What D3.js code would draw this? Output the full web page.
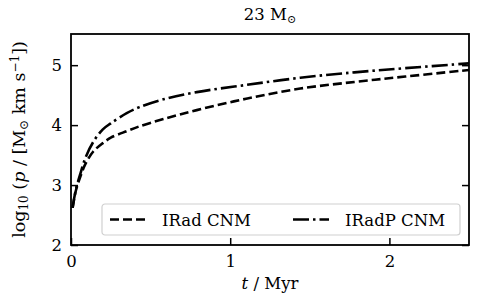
<!DOCTYPE html>
<meta charset="utf-8">
<style>
body { margin: 0; background: #fff; }
text { font-family: "DejaVu Serif", serif; fill: #000; }
</style>
<body>
<script src="https://cdn.jsdelivr.net/npm/d3@7"></script>
<script>
// data
var time = [0.01, 0.03, 0.06, 0.09, 0.14, 0.2, 0.25, 0.35, 0.43, 0.58, 0.79, 1.1, 1.44, 1.78, 2.1, 2.5];
var irad = [2.62, 2.9, 3.15, 3.35, 3.56, 3.7, 3.79, 3.9, 3.98, 4.1, 4.25, 4.44, 4.61, 4.72, 4.81, 4.92];
var iradp = [2.62, 2.92, 3.2, 3.45, 3.72, 3.93, 4.03, 4.2, 4.3, 4.43, 4.55, 4.67, 4.79, 4.88, 4.95, 5.03];
var xTicks = [0, 1, 2];
var yTicks = [2, 3, 4, 5];
var series = [
  {name: "IRad CNM", values: irad, dash: "9,4"},
  {name: "IRadP CNM", values: iradp, dash: "16,4,2.5,4"}
];

var margin = {top: 34, right: 9, bottom: 50, left: 71},
    width = 478 - margin.left - margin.right,
    height = 295 - margin.top - margin.bottom;

var x = d3.scaleLinear().domain([0, 2.5]).range([0, width]);
var y = d3.scaleLinear().domain([2, 5.52]).range([height, 0]);

var svg = d3.select("body").append("svg")
    .attr("width", 478)
    .attr("height", 295);
var g = svg.append("g")
    .attr("transform", "translate(" + margin.left + "," + margin.top + ")");

// clip for curves
g.append("clipPath").attr("id", "clip")
  .append("rect").attr("width", width).attr("height", height);

var line = d3.line()
    .x(function(d) { return x(d[0]); })
    .y(function(d) { return y(d[1]); })
    .curve(d3.curveCatmullRom.alpha(0.5));

series.forEach(function(s) {
  g.append("path")
    .datum(time.map(function(t, i) { return [t, s.values[i]]; }))
    .attr("clip-path", "url(#clip)")
    .attr("fill", "none")
    .attr("stroke", "#000")
    .attr("stroke-width", 2.6)
    .attr("stroke-dasharray", s.dash)
    .attr("d", line);
});

g.append("rect")
    .attr("width", width).attr("height", height)
    .attr("fill", "none").attr("stroke", "#000").attr("stroke-width", 1.8);

// axes, ticks pointing inward
var xAxis = g.append("g")
    .attr("transform", "translate(0," + height + ")")
    .call(d3.axisBottom(x).tickValues(xTicks).tickFormat(d3.format("d")).tickSize(-7).tickPadding(10));
var yAxis = g.append("g")
    .call(d3.axisLeft(y).tickValues(yTicks).tickFormat(d3.format("d")).tickSize(-7).tickPadding(9));
var yAxisR = g.append("g")
    .attr("transform", "translate(" + width + ",0)")
    .call(d3.axisRight(y).tickValues(yTicks).tickSize(-7).tickFormat(""));
[xAxis, yAxis, yAxisR].forEach(function(a) {
  a.select(".domain").remove();
  a.selectAll(".tick line").attr("stroke", "#000").attr("stroke-width", 1.5);
  a.selectAll("text").style("font-family", "DejaVu Serif").style("font-size", "16.5px");
});

// legend
var leg = g.append("g").attr("transform", "translate(31,170)");
leg.append("rect")
    .attr("width", 358).attr("height", 31).attr("rx", 3)
    .attr("fill", "#fff").attr("fill-opacity", 0.8)
    .attr("stroke", "#d0d0d0").attr("stroke-width", 1.2);
var legX = [8, 191];
series.forEach(function(s, i) {
  leg.append("line")
    .attr("x1", legX[i]).attr("x2", legX[i] + 36)
    .attr("y1", 15.5).attr("y2", 15.5)
    .attr("stroke", "#000").attr("stroke-width", 2.6)
    .attr("stroke-dasharray", s.dash);
  leg.append("text")
    .attr("x", legX[i] + 52).attr("y", 21.5)
    .style("font-size", "16.5px")
    .text(s.name);
});

// title
var title = svg.append("text")
    .attr("x", margin.left + width / 2).attr("y", 20)
    .attr("text-anchor", "middle").style("font-size", "16.5px");
title.append("tspan").text("23 M");
title.append("tspan").attr("dy", 3).style("font-size", "11px").text("\u2299");

// x label
var xl = svg.append("text")
    .attr("x", margin.left + width / 2).attr("y", 289)
    .attr("text-anchor", "middle").style("font-size", "16.5px");
xl.append("tspan").style("font-style", "italic").text("t");
xl.append("tspan").text(" / Myr");

// y label
var yl = svg.append("text")
    .attr("transform", "translate(25," + (margin.top + height / 2) + ") rotate(-90)")
    .attr("text-anchor", "middle").style("font-size", "17.5px");
yl.append("tspan").text("log");
yl.append("tspan").attr("dy", 3).style("font-size", "12px").text("10");
yl.append("tspan").attr("dy", -3).text(" (");
yl.append("tspan").style("font-style", "italic").text("p");
yl.append("tspan").text(" / [M");
yl.append("tspan").attr("dy", 3).style("font-size", "12px").text("\u2299");
yl.append("tspan").attr("dy", -3).text(" km s");
yl.append("tspan").attr("dy", -6).style("font-size", "12px").text("\u22121");
yl.append("tspan").attr("dy", 6).text("])");
</script>
</body>
